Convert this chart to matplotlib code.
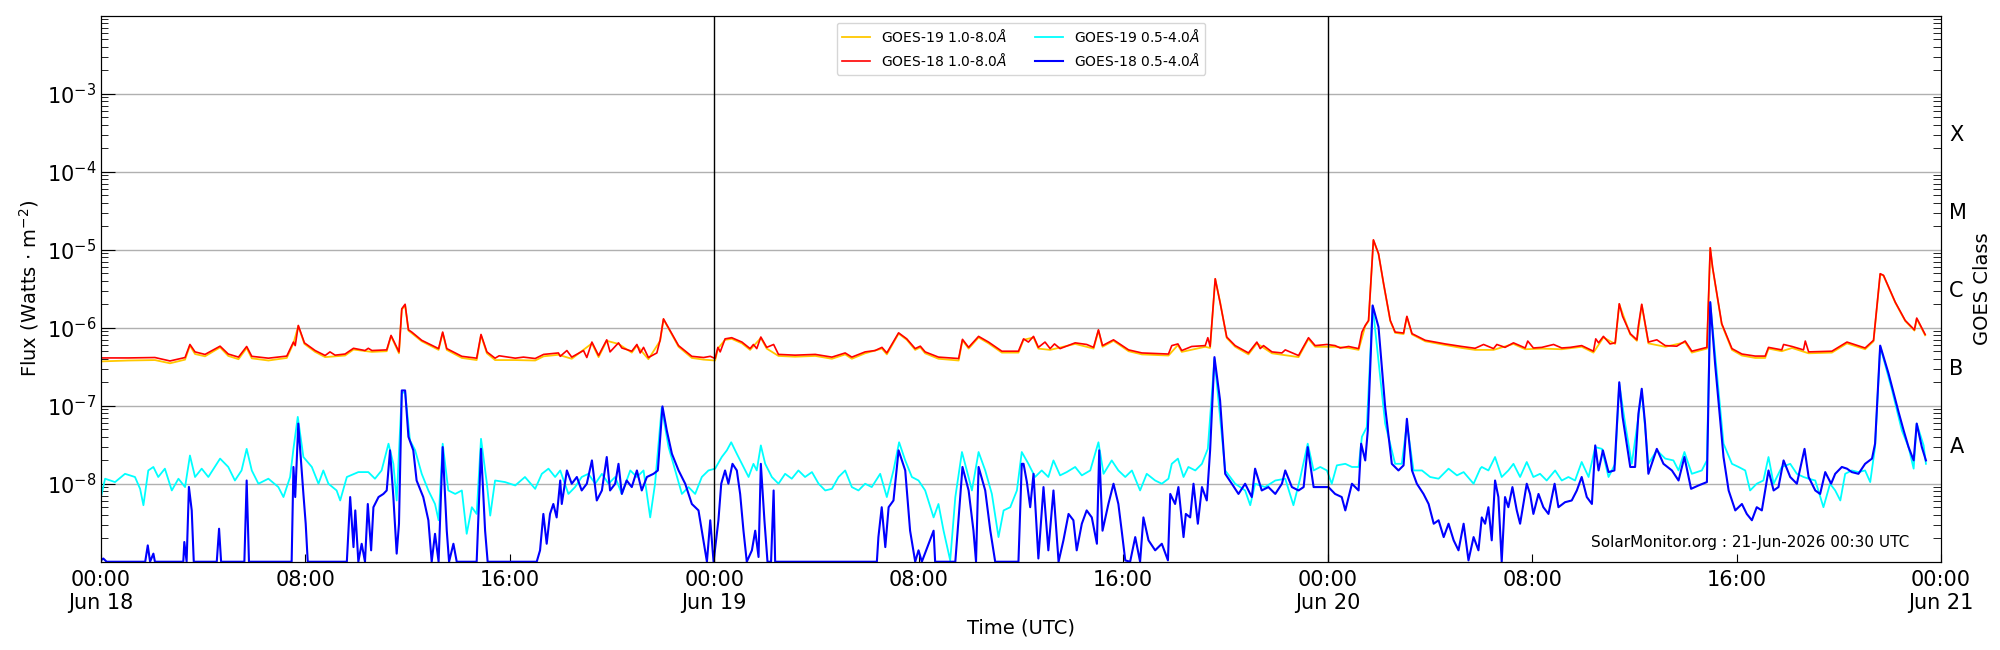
import numpy as np
import pandas as pd
import matplotlib
matplotlib.use("Agg")
import matplotlib.pyplot as plt
import matplotlib.dates as mdates
from matplotlib.ticker import FuncFormatter, LogLocator, NullFormatter

# (hours since 2026-06-18 00:00 UTC, flux W/m^2)
g19_long = [
    (0.00, 3.7e-7), (1.07, 3.8e-7), (2.11, 3.85e-7), (2.70, 3.5e-7), (3.29, 3.9e-7), (3.48, 5.9e-7),
    (3.68, 4.6e-7), (4.07, 4.3e-7), (4.66, 5.6e-7), (4.98, 4.35e-7), (5.38, 3.95e-7), (5.70, 5.5e-7),
    (5.90, 4.05e-7), (6.55, 3.8e-7), (7.27, 4.1e-7), (7.53, 6.3e-7), (7.72, 1.05e-6), (7.96, 6.2e-7),
    (8.38, 4.9e-7), (8.77, 4.2e-7), (9.55, 4.4e-7), (9.88, 5.25e-7), (10.60, 4.9e-7), (11.18, 5.0e-7),
    (11.35, 7.8e-7), (11.66, 4.7e-7), (11.77, 1.7e-6), (11.90, 1.95e-6), (12.03, 9.2e-7), (12.55, 6.7e-7),
    (13.21, 5.2e-7), (13.37, 8.6e-7), (13.53, 5.2e-7), (14.12, 4.1e-7), (14.70, 3.85e-7), (14.87, 8.0e-7),
    (15.10, 4.7e-7), (15.42, 3.85e-7), (16.21, 3.85e-7), (16.99, 3.8e-7), (17.32, 4.3e-7), (17.90, 4.5e-7),
    (18.42, 4.0e-7), (19.21, 6.3e-7), (19.47, 4.2e-7), (19.79, 6.8e-7), (20.25, 6.2e-7), (20.77, 4.8e-7),
    (20.97, 5.9e-7), (21.42, 3.95e-7), (21.88, 6.8e-7), (22.01, 1.28e-6), (22.27, 9.0e-7), (22.60, 5.7e-7),
    (23.12, 4.1e-7), (23.58, 3.9e-7), (24.03, 3.8e-7), (24.14, 5.4e-7), (24.42, 7.0e-7), (24.68, 7.2e-7),
    (25.08, 6.3e-7), (25.40, 5.2e-7), (25.82, 7.4e-7), (26.05, 5.4e-7), (26.51, 4.35e-7), (27.16, 4.25e-7),
    (27.95, 4.35e-7), (28.60, 4.0e-7), (29.12, 4.55e-7), (29.38, 4.0e-7), (29.90, 4.7e-7), (30.56, 5.4e-7),
    (30.75, 4.55e-7), (31.21, 8.4e-7), (31.53, 7.0e-7), (31.86, 5.2e-7), (32.06, 5.6e-7), (32.25, 4.7e-7),
    (32.77, 4.0e-7), (33.56, 3.8e-7), (33.71, 6.9e-7), (33.95, 5.4e-7), (34.34, 7.5e-7), (34.73, 6.3e-7),
    (35.25, 4.8e-7), (35.90, 4.8e-7), (36.10, 7.0e-7), (36.49, 7.5e-7), (36.68, 5.4e-7), (37.14, 5.2e-7),
    (38.12, 6.2e-7), (38.84, 5.4e-7), (39.03, 9.2e-7), (39.19, 5.7e-7), (39.62, 6.8e-7), (40.21, 5.0e-7),
    (40.73, 4.55e-7), (41.77, 4.4e-7), (42.14, 6.0e-7), (42.29, 4.9e-7), (43.21, 5.7e-7), (43.40, 5.5e-7),
    (43.60, 4.2e-6), (43.79, 2.15e-6), (44.05, 7.4e-7), (44.38, 5.7e-7), (44.90, 4.55e-7), (45.23, 6.3e-7),
    (45.82, 4.7e-7), (46.86, 4.2e-7), (47.25, 7.2e-7), (47.51, 5.7e-7), (48.29, 5.7e-7), (48.82, 5.5e-7),
    (49.21, 5.2e-7), (49.47, 1.05e-6), (49.60, 1.22e-6), (49.79, 1.32e-5), (49.99, 8.8e-6), (50.19, 3.6e-6),
    (50.45, 1.22e-6), (50.64, 8.6e-7), (50.97, 8.3e-7), (51.10, 1.38e-6), (51.30, 8.2e-7), (51.82, 6.7e-7),
    (52.60, 6.0e-7), (53.25, 5.5e-7), (53.77, 5.2e-7), (54.49, 5.2e-7), (55.27, 6.2e-7), (55.73, 5.3e-7),
    (56.38, 5.4e-7), (57.16, 5.3e-7), (57.94, 5.7e-7), (58.40, 4.8e-7), (58.79, 7.5e-7), (59.25, 6.2e-7),
    (59.41, 2.0e-6), (59.84, 8.2e-7), (60.10, 6.8e-7), (60.29, 1.97e-6), (60.55, 6.3e-7), (61.21, 5.7e-7),
    (61.99, 6.5e-7), (62.25, 4.8e-7), (62.84, 5.4e-7), (62.97, 1.05e-5), (63.06, 5.9e-6), (63.42, 1.1e-6),
    (63.82, 5.2e-7), (64.21, 4.4e-7), (64.73, 4.1e-7), (65.12, 4.1e-7), (65.25, 5.4e-7), (65.77, 5.0e-7),
    (66.17, 5.5e-7), (66.82, 4.7e-7), (67.73, 4.8e-7), (68.32, 6.3e-7), (69.03, 5.3e-7), (69.36, 6.7e-7),
    (69.62, 4.85e-6), (69.75, 4.65e-6), (70.21, 2.1e-6), (70.60, 1.22e-6), (70.96, 9.2e-7), (71.05, 1.3e-6),
    (71.38, 8.0e-7),
]

g18_long = [
    (0.00, 4.1e-7), (1.07, 4.1e-7), (2.11, 4.15e-7), (2.70, 3.75e-7), (3.29, 4.15e-7), (3.48, 6.1e-7),
    (3.68, 4.9e-7), (4.07, 4.55e-7), (4.66, 5.8e-7), (4.98, 4.6e-7), (5.38, 4.2e-7), (5.70, 5.75e-7),
    (5.90, 4.3e-7), (6.55, 4.07e-7), (7.27, 4.33e-7), (7.53, 6.55e-7), (7.60, 5.9e-7), (7.72, 1.07e-6),
    (7.96, 6.4e-7), (8.38, 5.1e-7), (8.77, 4.4e-7), (8.96, 4.9e-7), (9.16, 4.45e-7), (9.55, 4.6e-7),
    (9.88, 5.45e-7), (10.33, 5.1e-7), (10.46, 5.45e-7), (10.60, 5.1e-7), (11.18, 5.2e-7), (11.35, 7.97e-7),
    (11.66, 4.9e-7), (11.77, 1.75e-6), (11.90, 2.0e-6), (12.03, 9.4e-7), (12.16, 8.8e-7), (12.55, 6.9e-7),
    (13.21, 5.4e-7), (13.37, 8.8e-7), (13.53, 5.4e-7), (14.12, 4.3e-7), (14.70, 4.07e-7), (14.87, 8.2e-7),
    (15.10, 4.9e-7), (15.42, 4.07e-7), (15.58, 4.37e-7), (16.21, 4.07e-7), (16.53, 4.2e-7), (16.99, 4.03e-7),
    (17.32, 4.55e-7), (17.90, 4.75e-7), (17.97, 4.3e-7), (18.23, 5.1e-7), (18.42, 4.2e-7), (18.88, 5.1e-7),
    (19.01, 4.15e-7), (19.21, 6.55e-7), (19.47, 4.4e-7), (19.79, 7.0e-7), (19.92, 4.9e-7), (20.25, 6.4e-7),
    (20.38, 5.5e-7), (20.77, 5.0e-7), (20.97, 6.1e-7), (21.10, 4.75e-7), (21.23, 5.6e-7), (21.42, 4.15e-7),
    (21.75, 4.75e-7), (21.88, 7.0e-7), (22.01, 1.3e-6), (22.27, 9.2e-7), (22.60, 5.9e-7), (23.12, 4.3e-7),
    (23.58, 4.15e-7), (23.84, 4.3e-7), (24.03, 4.03e-7), (24.14, 5.6e-7), (24.23, 4.9e-7), (24.42, 7.2e-7),
    (24.68, 7.45e-7), (25.08, 6.55e-7), (25.40, 5.4e-7), (25.53, 6.1e-7), (25.66, 5.4e-7), (25.82, 7.6e-7),
    (26.05, 5.6e-7), (26.32, 6.1e-7), (26.51, 4.55e-7), (27.16, 4.45e-7), (27.95, 4.55e-7), (28.60, 4.2e-7),
    (29.12, 4.75e-7), (29.38, 4.2e-7), (29.90, 4.9e-7), (30.29, 5.1e-7), (30.56, 5.6e-7), (30.75, 4.75e-7),
    (31.21, 8.6e-7), (31.53, 7.2e-7), (31.86, 5.4e-7), (32.06, 5.8e-7), (32.25, 4.9e-7), (32.77, 4.2e-7),
    (33.56, 4.03e-7), (33.71, 7.1e-7), (33.95, 5.6e-7), (34.34, 7.75e-7), (34.73, 6.55e-7), (35.25, 5.0e-7),
    (35.90, 5.0e-7), (36.10, 7.2e-7), (36.29, 6.55e-7), (36.49, 7.75e-7), (36.68, 5.6e-7), (36.94, 6.55e-7),
    (37.14, 5.4e-7), (37.31, 6.2e-7), (37.53, 5.4e-7), (38.12, 6.4e-7), (38.57, 6.1e-7), (38.84, 5.6e-7),
    (39.03, 9.4e-7), (39.19, 5.9e-7), (39.62, 7.0e-7), (40.21, 5.2e-7), (40.73, 4.75e-7), (41.77, 4.6e-7),
    (41.90, 5.9e-7), (42.14, 6.2e-7), (42.29, 5.1e-7), (42.68, 5.75e-7), (43.21, 5.9e-7), (43.31, 7.45e-7),
    (43.40, 5.75e-7), (43.60, 4.25e-6), (43.79, 2.1e-6), (44.05, 7.6e-7), (44.38, 5.9e-7), (44.90, 4.75e-7),
    (45.23, 6.55e-7), (45.36, 5.4e-7), (45.49, 5.9e-7), (45.82, 4.9e-7), (46.21, 4.75e-7), (46.34, 5.2e-7),
    (46.86, 4.4e-7), (47.25, 7.45e-7), (47.51, 5.9e-7), (47.97, 6.1e-7), (48.29, 5.9e-7), (48.49, 5.5e-7),
    (48.82, 5.75e-7), (49.21, 5.4e-7), (49.34, 8.8e-7), (49.47, 1.07e-6), (49.60, 1.24e-6), (49.79, 1.34e-5),
    (49.99, 8.9e-6), (50.19, 3.66e-6), (50.45, 1.24e-6), (50.64, 8.8e-7), (50.97, 8.55e-7), (51.10, 1.4e-6),
    (51.30, 8.4e-7), (51.82, 6.9e-7), (52.60, 6.2e-7), (53.25, 5.75e-7), (53.77, 5.45e-7), (54.10, 6.1e-7),
    (54.49, 5.4e-7), (54.62, 6.1e-7), (54.94, 5.6e-7), (55.27, 6.4e-7), (55.73, 5.5e-7), (55.83, 6.75e-7),
    (56.05, 5.5e-7), (56.38, 5.6e-7), (56.84, 6.1e-7), (57.16, 5.5e-7), (57.49, 5.6e-7), (57.94, 5.9e-7),
    (58.40, 5.0e-7), (58.49, 7.2e-7), (58.60, 6.4e-7), (58.79, 7.75e-7), (59.05, 6.2e-7), (59.25, 6.4e-7),
    (59.41, 2.03e-6), (59.54, 1.4e-6), (59.84, 8.4e-7), (60.10, 7.0e-7), (60.16, 1.07e-6), (60.29, 2.0e-6),
    (60.55, 6.55e-7), (60.88, 7.0e-7), (61.21, 5.9e-7), (61.66, 5.8e-7), (61.99, 6.75e-7), (62.25, 5.0e-7),
    (62.84, 5.6e-7), (62.97, 1.06e-5), (63.06, 6.0e-6), (63.42, 1.13e-6), (63.82, 5.4e-7), (64.21, 4.6e-7),
    (64.73, 4.33e-7), (65.12, 4.33e-7), (65.25, 5.6e-7), (65.77, 5.2e-7), (65.84, 6.1e-7), (66.17, 5.75e-7),
    (66.62, 5.2e-7), (66.69, 6.75e-7), (66.82, 4.9e-7), (67.73, 5.0e-7), (68.32, 6.55e-7), (69.03, 5.5e-7),
    (69.36, 6.9e-7), (69.62, 4.93e-6), (69.75, 4.7e-6), (70.21, 2.13e-6), (70.60, 1.24e-6), (70.96, 9.4e-7),
    (71.05, 1.33e-6), (71.38, 8.2e-7),
]

g19_short = [
    (0.00, 6.75e-9), (0.16, 1.16e-8), (0.55, 1.05e-8), (0.94, 1.34e-8), (1.33, 1.22e-8), (1.53, 8.6e-9),
    (1.66, 5.3e-9), (1.85, 1.48e-8), (2.05, 1.64e-8), (2.24, 1.22e-8), (2.50, 1.56e-8), (2.77, 8.2e-9),
    (3.03, 1.16e-8), (3.29, 9.06e-9), (3.48, 2.3e-8), (3.68, 1.22e-8), (3.94, 1.56e-8), (4.20, 1.22e-8),
    (4.66, 2.1e-8), (4.98, 1.64e-8), (5.24, 1.1e-8), (5.50, 1.48e-8), (5.70, 2.8e-8), (5.90, 1.48e-8),
    (6.16, 1.0e-8), (6.55, 1.16e-8), (6.94, 9.06e-9), (7.14, 6.75e-9), (7.40, 1.22e-8), (7.53, 2.8e-8),
    (7.70, 7.2e-8), (7.92, 2.2e-8), (8.25, 1.64e-8), (8.51, 1.0e-8), (8.70, 1.48e-8), (8.90, 1.0e-8),
    (9.22, 8.2e-9), (9.36, 6.1e-9), (9.62, 1.22e-8), (10.07, 1.41e-8), (10.46, 1.41e-8), (10.72, 1.16e-8),
    (10.98, 1.48e-8), (11.25, 3.26e-8), (11.44, 1.8e-8), (11.57, 6.1e-9), (11.77, 1.45e-7), (11.90, 1.5e-7),
    (12.09, 3.6e-8), (12.29, 2.7e-8), (12.55, 1.34e-8), (12.81, 8.2e-9), (13.07, 5.5e-9), (13.21, 3.4e-9),
    (13.37, 3.26e-8), (13.59, 8.2e-9), (13.86, 7.4e-9), (14.12, 8.2e-9), (14.31, 2.28e-9), (14.51, 5.0e-9),
    (14.70, 4.1e-9), (14.87, 3.77e-8), (15.10, 1.0e-8), (15.23, 3.9e-9), (15.42, 1.1e-8), (15.81, 1.05e-8),
    (16.21, 9.5e-9), (16.59, 1.22e-8), (16.99, 8.6e-9), (17.25, 1.34e-8), (17.51, 1.56e-8), (17.77, 1.22e-8),
    (17.97, 1.48e-8), (18.29, 7.4e-9), (18.55, 9.06e-9), (18.81, 1.22e-8), (19.07, 1.34e-8), (19.34, 1.0e-8),
    (19.60, 1.34e-8), (19.86, 1.0e-8), (20.12, 1.22e-8), (20.38, 7.4e-9), (20.71, 1.48e-8), (20.97, 1.22e-8),
    (21.23, 1.48e-8), (21.49, 3.7e-9), (21.68, 1.0e-8), (21.94, 9.4e-8), (22.21, 2.95e-8), (22.47, 1.48e-8),
    (22.73, 7.4e-9), (22.99, 9.06e-9), (23.25, 7.4e-9), (23.51, 1.22e-8), (23.77, 1.48e-8), (24.03, 1.56e-8),
    (24.29, 2.2e-8), (24.49, 2.68e-8), (24.66, 3.4e-8), (24.88, 2.42e-8), (25.08, 1.8e-8), (25.34, 1.22e-8),
    (25.53, 1.8e-8), (25.66, 1.48e-8), (25.82, 3.1e-8), (25.99, 1.8e-8), (26.25, 1.22e-8), (26.51, 1.0e-8),
    (26.77, 1.34e-8), (27.03, 1.16e-8), (27.29, 1.48e-8), (27.55, 1.22e-8), (27.82, 1.41e-8), (28.08, 1.0e-8),
    (28.34, 8.2e-9), (28.60, 8.6e-9), (28.86, 1.22e-8), (29.12, 1.48e-8), (29.38, 9.06e-9), (29.64, 8.2e-9),
    (29.90, 1.0e-8), (30.16, 9.06e-9), (30.49, 1.34e-8), (30.75, 6.75e-9), (31.01, 1.48e-8), (31.23, 3.4e-8),
    (31.47, 1.99e-8), (31.73, 1.22e-8), (31.99, 1.1e-8), (32.25, 8.2e-9), (32.58, 3.7e-9), (32.77, 5.5e-9),
    (32.97, 2.5e-9), (33.23, 1.04e-9), (33.43, 6.75e-9), (33.69, 2.55e-8), (33.88, 1.48e-8), (34.08, 8.2e-9),
    (34.34, 2.55e-8), (34.60, 1.48e-8), (34.86, 7.4e-9), (35.12, 2.07e-9), (35.32, 4.55e-9), (35.58, 5.0e-9),
    (35.84, 8.2e-9), (36.03, 2.55e-8), (36.29, 1.8e-8), (36.55, 1.22e-8), (36.81, 1.48e-8), (37.07, 1.22e-8),
    (37.27, 1.99e-8), (37.53, 1.28e-8), (37.79, 1.41e-8), (38.12, 1.64e-8), (38.38, 1.28e-8), (38.71, 1.48e-8),
    (39.03, 3.4e-8), (39.23, 1.34e-8), (39.55, 1.99e-8), (39.81, 1.48e-8), (40.08, 1.22e-8), (40.34, 1.48e-8),
    (40.66, 8.2e-9), (40.92, 1.34e-8), (41.25, 1.1e-8), (41.51, 1.0e-8), (41.77, 1.16e-8), (41.90, 1.8e-8),
    (42.14, 2.1e-8), (42.36, 1.22e-8), (42.55, 1.64e-8), (42.82, 1.48e-8), (43.08, 1.8e-8), (43.31, 2.8e-8),
    (43.57, 4.0e-7), (43.99, 1.48e-8), (44.38, 1.0e-8), (44.77, 8.2e-9), (44.97, 5.3e-9), (45.16, 1.0e-8),
    (45.55, 9.06e-9), (45.95, 1.1e-8), (46.34, 1.16e-8), (46.66, 5.3e-9), (46.92, 1.16e-8), (47.22, 3.26e-8),
    (47.45, 1.48e-8), (47.71, 1.64e-8), (47.97, 1.48e-8), (48.16, 1.0e-8), (48.36, 1.72e-8), (48.69, 1.8e-8),
    (48.95, 1.64e-8), (49.21, 1.64e-8), (49.34, 4.0e-8), (49.53, 5.3e-8), (49.76, 1.9e-6), (50.25, 5.9e-8),
    (50.64, 1.8e-8), (50.90, 1.8e-8), (51.10, 5.9e-8), (51.36, 1.48e-8), (51.69, 1.48e-8), (52.01, 1.22e-8),
    (52.34, 1.16e-8), (52.73, 1.56e-8), (53.06, 1.28e-8), (53.32, 1.41e-8), (53.71, 1.0e-8), (53.97, 1.56e-8),
    (54.03, 1.64e-8), (54.29, 1.48e-8), (54.55, 2.2e-8), (54.81, 1.22e-8), (55.07, 1.48e-8), (55.27, 1.8e-8),
    (55.53, 1.22e-8), (55.79, 1.9e-8), (56.05, 1.22e-8), (56.31, 1.34e-8), (56.57, 1.1e-8), (56.90, 1.48e-8),
    (57.16, 1.1e-8), (57.42, 1.22e-8), (57.68, 1.1e-8), (57.94, 1.9e-8), (58.21, 1.22e-8), (58.47, 2.95e-8),
    (58.73, 2.8e-8), (58.99, 1.22e-8), (59.25, 1.8e-8), (59.41, 1.91e-7), (59.64, 5.9e-8), (59.90, 1.8e-8),
    (60.16, 7.2e-8), (60.29, 1.57e-7), (60.55, 1.8e-8), (60.88, 2.68e-8), (61.21, 2.1e-8), (61.53, 1.99e-8),
    (61.73, 1.48e-8), (61.96, 2.55e-8), (62.25, 1.34e-8), (62.64, 1.48e-8), (62.84, 1.99e-8), (62.97, 2.1e-6),
    (63.49, 3.26e-8), (63.82, 1.8e-8), (64.08, 1.64e-8), (64.34, 1.48e-8), (64.53, 8.2e-9), (64.79, 1.0e-8),
    (65.05, 1.1e-8), (65.25, 2.2e-8), (65.45, 1.0e-8), (65.77, 1.64e-8), (66.10, 1.8e-8), (66.36, 1.34e-8),
    (66.62, 1.22e-8), (66.82, 1.16e-8), (67.08, 1.1e-8), (67.40, 5.0e-9), (67.66, 1.0e-8), (67.86, 8.2e-9),
    (68.06, 6.1e-9), (68.25, 1.34e-8), (68.51, 1.48e-8), (68.77, 1.41e-8), (69.03, 1.48e-8), (69.23, 1.05e-8),
    (69.42, 2.95e-8), (69.62, 5.8e-7), (70.08, 1.6e-7), (70.47, 4.8e-8), (70.73, 2.95e-8), (70.93, 1.56e-8),
    (71.05, 5.9e-8), (71.32, 3.1e-8), (71.41, 1.8e-8),
]

g18_short = [
    (0.00, 1.04e-9), (0.09, 1.1e-9), (0.22, 1e-9), (1.73, 1e-9), (1.83, 1.62e-9), (1.92, 1e-9),
    (2.05, 1.27e-9), (2.11, 1e-9), (3.22, 1e-9), (3.26, 1.79e-9), (3.35, 1e-9), (3.44, 9.1e-9),
    (3.55, 4.55e-9), (3.63, 1e-9), (4.53, 1e-9), (4.62, 2.65e-9), (4.70, 1e-9), (5.61, 1e-9),
    (5.70, 1.1e-8), (5.79, 1e-9), (7.46, 1e-9), (7.53, 1.64e-8), (7.60, 6.75e-9), (7.72, 5.9e-8),
    (7.92, 7.4e-9), (8.01, 3.07e-9), (8.09, 1e-9), (9.62, 1e-9), (9.75, 6.75e-9), (9.88, 1.54e-9),
    (9.95, 4.55e-9), (10.07, 1e-9), (10.20, 1.7e-9), (10.33, 1e-9), (10.44, 5.5e-9), (10.57, 1.4e-9),
    (10.66, 5.0e-9), (10.86, 6.75e-9), (11.05, 7.4e-9), (11.18, 8.2e-9), (11.31, 2.68e-8), (11.44, 6.75e-9),
    (11.57, 1.27e-9), (11.66, 3.07e-9), (11.77, 1.57e-7), (11.90, 1.57e-7), (12.03, 4.0e-8), (12.22, 2.68e-8),
    (12.35, 1.1e-8), (12.61, 6.75e-9), (12.81, 3.4e-9), (12.94, 1e-9), (13.07, 2.28e-9), (13.21, 1e-9),
    (13.37, 2.95e-8), (13.53, 2.5e-9), (13.62, 1e-9), (13.79, 1.7e-9), (13.92, 1e-9), (14.70, 1e-9),
    (14.87, 2.8e-8), (15.03, 2.5e-9), (15.13, 1e-9), (17.05, 1e-9), (17.18, 1.4e-9), (17.31, 4.1e-9),
    (17.44, 1.7e-9), (17.57, 4.1e-9), (17.70, 5.5e-9), (17.83, 3.7e-9), (17.97, 1.1e-8), (18.03, 5.5e-9),
    (18.23, 1.48e-8), (18.42, 1.0e-8), (18.62, 1.22e-8), (18.81, 8.2e-9), (19.01, 1.0e-8), (19.21, 1.99e-8),
    (19.40, 6.1e-9), (19.60, 8.2e-9), (19.79, 2.2e-8), (19.92, 8.2e-9), (20.12, 1.0e-8), (20.25, 1.8e-8),
    (20.38, 7.4e-9), (20.57, 1.1e-8), (20.77, 9.06e-9), (20.97, 1.48e-8), (21.16, 8.2e-9), (21.36, 1.22e-8),
    (21.62, 1.34e-8), (21.79, 1.48e-8), (21.97, 9.8e-8), (22.14, 4.8e-8), (22.34, 2.42e-8), (22.60, 1.48e-8),
    (22.86, 1.0e-8), (23.12, 5.5e-9), (23.38, 4.55e-9), (23.51, 2.5e-9), (23.71, 1e-9), (23.84, 3.4e-9),
    (23.97, 1e-9), (24.16, 3.4e-9), (24.27, 1.0e-8), (24.42, 1.48e-8), (24.55, 1.0e-8), (24.71, 1.8e-8),
    (24.88, 1.48e-8), (25.01, 7.4e-9), (25.14, 2.5e-9), (25.27, 1e-9), (25.47, 1.4e-9), (25.60, 2.5e-9),
    (25.73, 1.15e-9), (25.82, 1.8e-8), (25.96, 3.4e-9), (26.08, 1e-9), (26.22, 1e-9), (26.32, 8.2e-9),
    (26.38, 1e-9), (30.36, 1e-9), (30.42, 2.07e-9), (30.55, 5.0e-9), (30.69, 1.54e-9), (30.82, 5.0e-9),
    (31.01, 6.1e-9), (31.21, 2.68e-8), (31.47, 1.48e-8), (31.66, 2.5e-9), (31.86, 1e-9), (31.99, 1.4e-9),
    (32.12, 1e-9), (32.58, 2.5e-9), (32.64, 1e-9), (33.43, 1e-9), (33.71, 1.64e-8), (33.95, 8.2e-9),
    (34.14, 2.5e-9), (34.24, 1e-9), (34.34, 1.64e-8), (34.60, 8.2e-9), (34.80, 2.5e-9), (34.99, 1e-9),
    (35.90, 1e-9), (36.03, 1.8e-8), (36.10, 1.8e-8), (36.23, 1.05e-8), (36.36, 5.0e-9), (36.49, 1.34e-8),
    (36.68, 1.1e-9), (36.88, 9.06e-9), (37.07, 1.4e-9), (37.27, 8.2e-9), (37.47, 1e-9), (37.66, 1.88e-9),
    (37.86, 4.1e-9), (38.05, 3.4e-9), (38.18, 1.4e-9), (38.38, 3.07e-9), (38.57, 4.55e-9), (38.77, 3.7e-9),
    (38.97, 1.7e-9), (39.06, 2.68e-8), (39.19, 2.5e-9), (39.42, 5.5e-9), (39.62, 1.0e-8), (39.81, 5.5e-9),
    (39.94, 2.5e-9), (40.08, 1.04e-9), (40.27, 1e-9), (40.47, 2.07e-9), (40.66, 1e-9), (40.79, 3.7e-9),
    (40.99, 1.88e-9), (41.25, 1.4e-9), (41.51, 1.7e-9), (41.75, 1.04e-9), (41.84, 7.4e-9), (42.03, 5.5e-9),
    (42.16, 9.06e-9), (42.36, 2.07e-9), (42.45, 4.1e-9), (42.62, 3.7e-9), (42.75, 1.0e-8), (42.92, 3.07e-9),
    (43.08, 9.06e-9), (43.27, 6.1e-9), (43.40, 2.68e-8), (43.57, 4.2e-7), (43.79, 1.17e-7), (43.99, 1.34e-8),
    (44.25, 1.0e-8), (44.51, 7.4e-9), (44.77, 1.0e-8), (45.03, 6.75e-9), (45.16, 1.56e-8), (45.42, 8.2e-9),
    (45.68, 9.06e-9), (45.95, 7.4e-9), (46.21, 1.0e-8), (46.34, 1.48e-8), (46.60, 9.06e-9), (46.86, 8.2e-9),
    (47.06, 9.06e-9), (47.22, 2.95e-8), (47.45, 9.06e-9), (47.77, 9.06e-9), (48.03, 9.06e-9), (48.29, 7.4e-9),
    (48.55, 6.75e-9), (48.69, 4.55e-9), (48.95, 1.0e-8), (49.21, 8.2e-9), (49.31, 3.26e-8), (49.47, 1.99e-8),
    (49.57, 4.8e-8), (49.76, 1.93e-6), (49.99, 1.02e-6), (50.25, 9.6e-8), (50.51, 1.8e-8), (50.77, 1.48e-8),
    (50.97, 1.72e-8), (51.10, 6.8e-8), (51.30, 1.48e-8), (51.49, 1.0e-8), (51.75, 7.4e-9), (51.95, 5.5e-9),
    (52.15, 3.07e-9), (52.34, 3.4e-9), (52.54, 2.07e-9), (52.73, 3.07e-9), (52.93, 1.88e-9), (53.12, 1.4e-9),
    (53.32, 3.07e-9), (53.51, 1.04e-9), (53.71, 2.07e-9), (53.90, 1.4e-9), (54.03, 3.7e-9), (54.16, 3.07e-9),
    (54.29, 5.0e-9), (54.42, 1.88e-9), (54.55, 1.1e-8), (54.68, 6.75e-9), (54.81, 1e-9), (54.94, 6.75e-9),
    (55.07, 5.0e-9), (55.23, 9.06e-9), (55.40, 4.55e-9), (55.53, 3.07e-9), (55.66, 5.5e-9), (55.79, 1.0e-8),
    (55.92, 7.4e-9), (56.05, 4.1e-9), (56.25, 7.4e-9), (56.44, 5.0e-9), (56.64, 4.1e-9), (56.88, 1.0e-8),
    (57.03, 5.0e-9), (57.29, 5.8e-9), (57.55, 6.1e-9), (57.75, 8.2e-9), (57.94, 1.22e-8), (58.14, 6.75e-9),
    (58.34, 5.5e-9), (58.47, 3.1e-8), (58.60, 1.48e-8), (58.77, 2.68e-8), (58.99, 1.41e-8), (59.22, 1.48e-8),
    (59.41, 2.0e-7), (59.54, 7.2e-8), (59.84, 1.64e-8), (60.03, 1.64e-8), (60.16, 7.9e-8), (60.29, 1.65e-7),
    (60.42, 5.9e-8), (60.55, 1.34e-8), (60.88, 2.8e-8), (61.14, 1.8e-8), (61.47, 1.48e-8), (61.73, 1.1e-8),
    (61.96, 2.2e-8), (62.22, 8.6e-9), (62.51, 9.5e-9), (62.84, 1.05e-8), (62.97, 2.13e-6), (63.16, 3.45e-7),
    (63.49, 2.2e-8), (63.69, 8.2e-9), (63.95, 4.55e-9), (64.21, 5.5e-9), (64.40, 4.1e-9), (64.60, 3.4e-9),
    (64.79, 5.0e-9), (64.99, 4.55e-9), (65.25, 1.48e-8), (65.45, 8.2e-9), (65.64, 9.06e-9), (65.84, 1.99e-8),
    (66.10, 1.22e-8), (66.36, 1.0e-8), (66.66, 2.8e-8), (66.82, 1.22e-8), (67.08, 8.2e-9), (67.27, 7.4e-9),
    (67.47, 1.41e-8), (67.70, 1.0e-8), (67.86, 1.34e-8), (68.12, 1.64e-8), (68.32, 1.56e-8), (68.51, 1.41e-8),
    (68.77, 1.34e-8), (69.03, 1.8e-8), (69.30, 2.1e-8), (69.42, 3.26e-8), (69.62, 5.9e-7), (69.95, 2.57e-7),
    (70.34, 8.3e-8), (70.54, 4.8e-8), (70.73, 2.95e-8), (70.93, 1.99e-8), (71.05, 5.9e-8), (71.25, 2.95e-8),
    (71.41, 1.99e-8),
]

day_lines = ["2026-06-19", "2026-06-20"]
class_labels = ["A", "B", "C", "M", "X"]
class_pos = [10**-7.5, 10**-6.5, 10**-5.5, 10**-4.5, 10**-3.5]
decades = [1e-8, 1e-7, 1e-6, 1e-5, 1e-4, 1e-3]

start = np.datetime64("2026-06-18T00:00")


def to_xy(pairs):
    h = np.array([p[0] for p in pairs])
    f = np.array([p[1] for p in pairs])
    t = start + (h * 3600).astype("timedelta64[s]")
    return t, f


fig = plt.figure(figsize=(20, 6.5), dpi=100)
ax = fig.add_axes([0.0505, 0.1358, 0.92, 0.840])

ax.plot(*to_xy(g19_long), color="#ffc800", lw=1.3, label="GOES-19 1.0-8.0$\\AA$")
ax.plot(*to_xy(g18_long), color="red", lw=1.2, label="GOES-18 1.0-8.0$\\AA$")
ax.plot(*to_xy(g19_short), color="cyan", lw=1.3, label="GOES-19 0.5-4.0$\\AA$")
ax.plot(*to_xy(g18_short), color="blue", lw=1.5, label="GOES-18 0.5-4.0$\\AA$")

for d in day_lines:
    ax.axvline(np.datetime64(d + "T00:00"), color="black", lw=1)

ax.set_yscale("log")
ax.set_ylim(1e-9, 1e-2)
ax.set_yticks(decades)
ax.yaxis.set_minor_locator(LogLocator(base=10, subs=np.arange(2, 10), numticks=30))
ax.yaxis.set_minor_formatter(NullFormatter())
ax.yaxis.grid(True, which="major", color="#b0b0b0", lw=1)

ax.set_xlim(start, start + np.timedelta64(3, "D"))
ax.xaxis.set_major_locator(mdates.HourLocator(byhour=[0, 8, 16]))


def fmt(x, pos):
    d = mdates.num2date(x)
    if d.hour == 0:
        return d.strftime("%H:%M\n%b %d")
    return d.strftime("%H:%M")


ax.xaxis.set_major_formatter(FuncFormatter(fmt))
ax.tick_params(axis="x", direction="in", length=6, labelsize=15, pad=6)
ax.tick_params(axis="y", which="major", direction="in", length=10, labelsize=15)
ax.tick_params(axis="y", which="minor", direction="in", length=5)

ax.set_xlabel("Time (UTC)", fontsize=14)
ax.set_ylabel("Flux (Watts $\\cdot$ m$^{-2}$)", fontsize=14)

ax2 = ax.twinx()
ax2.set_yscale("log")
ax2.set_ylim(1e-9, 1e-2)
ax2.set_yticks(class_pos)
ax2.set_yticklabels(class_labels)
ax2.yaxis.set_minor_locator(LogLocator(base=10, subs=np.arange(2, 10), numticks=30))
ax2.yaxis.set_minor_formatter(NullFormatter())
ax2.tick_params(which="major", length=0, labelsize=15, pad=6)
ax2.tick_params(which="minor", direction="in", length=6)
ax2.set_ylabel("GOES Class", fontsize=14)

ax.legend(loc="upper center", ncol=2, fontsize=10)
ax.text(0.983, 0.022, "SolarMonitor.org : 21-Jun-2026 00:30 UTC", transform=ax.transAxes,
        ha="right", va="bottom", fontsize=11)

fig.savefig("out.png", dpi=100)
